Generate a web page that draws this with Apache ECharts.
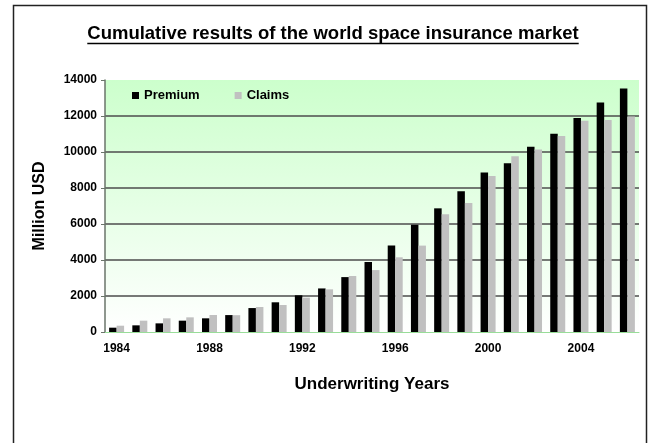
<!DOCTYPE html>
<html>
<head>
<meta charset="utf-8">
<script src="https://cdn.jsdelivr.net/npm/echarts@6/dist/echarts.min.js"></script>
<style>
  html, body { margin: 0; padding: 0; background: #fff; }
  #chart { width: 651px; height: 443px; }
</style>
</head>
<body>
<div id="chart"></div>
<script>
// Underwriting years on the category axis
const years = ['1984', '1985', '1986', '1987', '1988', '1989', '1990', '1991', '1992', '1993', '1994', '1995',
  '1996', '1997', '1998', '1999', '2000', '2001', '2002', '2003', '2004', '2005', '2006'];

// Cumulative premium and claims, million USD
const premium = [240, 370, 480, 630, 760, 940, 1330, 1650, 2040, 2420, 3050, 3890,
  4800, 5960, 6870, 7820, 8860, 9380, 10290, 11020, 11890, 12750, 13530];
const claims = [350, 630, 760, 815, 945, 935, 1390, 1500, 1910, 2370, 3110, 3440,
  4150, 4800, 6540, 7170, 8660, 9770, 10140, 10890, 11730, 11780, 11970];

const FONT = '"Liberation Sans", Arial, sans-serif';
const titleText = 'Cumulative results of the world space insurance market';
const titleSize = 18.5;

// Width of the title, so the underline spans exactly the text
const ctx = document.createElement('canvas').getContext('2d');
ctx.font = 'bold ' + titleSize + 'px "Liberation Sans"';
const titleW = ctx.measureText(titleText).width;
const titleCx = 333;

const chart = echarts.init(document.getElementById('chart'));
chart.setOption({
  animation: false,
  backgroundColor: '#fff',
  title: {
    text: titleText,
    left: titleCx - titleW / 2,
    top: 24,
    padding: 0,
    textStyle: { fontFamily: FONT, fontSize: titleSize, fontWeight: 'bold', color: '#000' }
  },
  graphic: [
    {
      type: 'rect', silent: true, z: 100,
      shape: { x: 13.5, y: 5.5, width: 633, height: 470 },
      style: { fill: 'none', stroke: '#222', lineWidth: 1.5 }
    },
    {
      type: 'line', silent: true, z: 100,
      shape: { x1: titleCx - titleW / 2, y1: 43.5, x2: titleCx + titleW / 2, y2: 43.5 },
      style: { stroke: '#000', lineWidth: 1.5 }
    }
  ],
  legend: {
    left: 132, top: 89, padding: 0,
    itemWidth: 7, itemHeight: 7, itemGap: 35,
    icon: 'rect',
    textStyle: { fontFamily: FONT, fontSize: 13, fontWeight: 'bold', color: '#000' },
    data: ['Premium', 'Claims']
  },
  grid: {
    left: 105, right: 12, top: 80, bottom: 111,
    show: true,
    borderWidth: 0,
    backgroundColor: {
      type: 'linear', x: 0, y: 0, x2: 0, y2: 1,
      colorStops: [{ offset: 0, color: '#ccffcc' }, { offset: 1, color: '#ffffff' }]
    }
  },
  xAxis: {
    type: 'category',
    data: years,
    name: 'Underwriting Years',
    nameLocation: 'middle',
    nameGap: 44,
    nameTextStyle: { fontFamily: FONT, fontSize: 17, fontWeight: 'bold', color: '#000' },
    axisLine: { lineStyle: { color: '#99dd99', width: 1 } },
    axisTick: { show: false },
    axisLabel: { interval: 3, margin: 11, fontFamily: FONT, fontSize: 12, fontWeight: 'bold', color: '#000' }
  },
  yAxis: {
    type: 'value',
    min: 0, max: 14000, interval: 2000,
    name: 'Million USD',
    nameLocation: 'middle',
    nameGap: 57,
    nameRotate: 90,
    nameTextStyle: { fontFamily: FONT, fontSize: 16, fontWeight: 'bold', color: '#000' },
    axisLine: { show: true, lineStyle: { color: '#6a756a', width: 1.5 } },
    axisTick: { show: true, length: 4, lineStyle: { color: '#6a756a' } },
    axisLabel: {
      margin: 8, fontFamily: FONT, fontSize: 12, fontWeight: 'bold', color: '#000',
      formatter: v => String(v)
    },
    splitLine: { showMinLine: false, showMaxLine: false, lineStyle: { color: '#4d4d4d', width: 1.5 } }
  },
  series: [
    { name: 'Premium', type: 'bar', data: premium, barWidth: 7.5, barGap: '0%', itemStyle: { color: '#000' } },
    { name: 'Claims', type: 'bar', data: claims, barWidth: 7.5, barGap: '0%', itemStyle: { color: '#c0c0c0' } }
  ]
});
</script>
</body>
</html>
